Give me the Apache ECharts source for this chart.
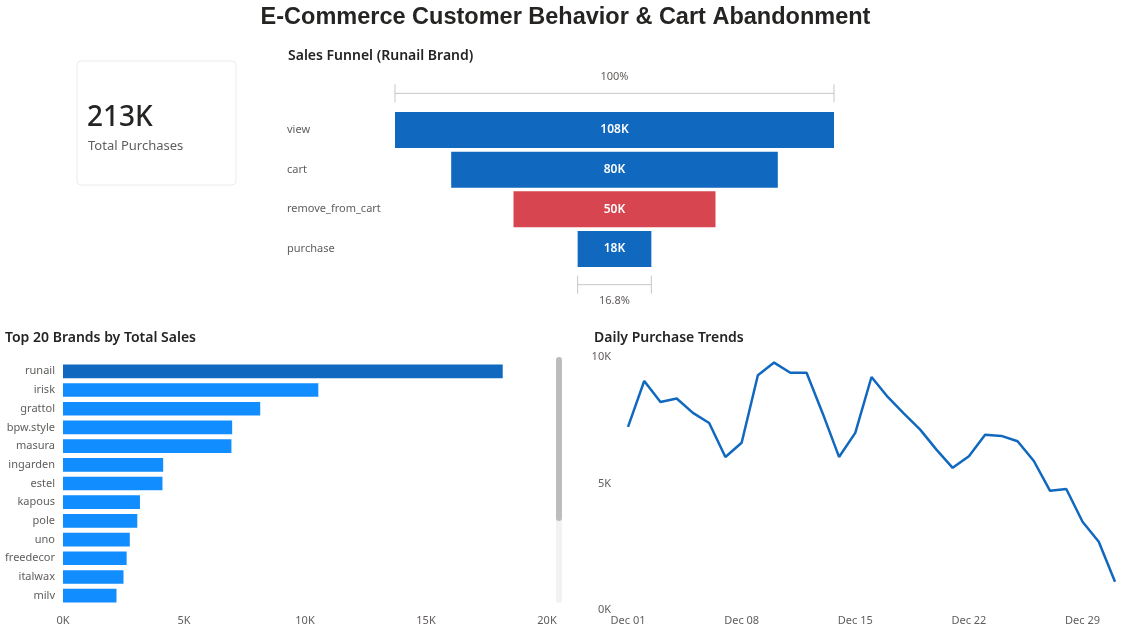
<!DOCTYPE html>
<html>
<head>
<meta charset="utf-8">
<title>E-Commerce Customer Behavior & Cart Abandonment</title>
<script src="https://cdn.jsdelivr.net/npm/echarts@6/dist/echarts.min.js"></script>
<style>
  html, body { margin: 0; padding: 0; background: #ffffff; }
  #main { width: 1131px; height: 633px; }
</style>
</head>
<body>
<div id="main"></div>
<script>
// funnel (runail brand)
var funnelStages = ['view', 'cart', 'remove_from_cart', 'purchase']
var funnelValues = [107800, 80200, 49600, 18100]

// top brands by total sales (visible part of the list)
var brandNames = ['runail', 'irisk', 'grattol', 'bpw.style', 'masura', 'ingarden', 'estel', 'kapous', 'pole', 'uno', 'freedecor', 'italwax', 'milv']
var brandSales = [18170, 10550, 8150, 6990, 6960, 4140, 4110, 3180, 3070, 2760, 2630, 2500, 2210]

// daily purchases, december
var dayLabels = []
for (var d = 1; d <= 31; d++) dayLabels.push('Dec ' + (d < 10 ? '0' + d : d))
var dailyPurchases = [7240, 9050, 8220, 8360, 7790, 7390, 6050, 6610, 9280, 9780, 9380, 9380, 7760, 6050,
  7000, 9210, 8420, 7760, 7130, 6340, 5620, 6080, 6930, 6880, 6670, 5890, 4710, 4780, 3490, 2700, 1120]

var font = 'Noto Sans'
var gray = '#605e5c'
var dark = '#252423'
var blue = '#1068bf'
var red = '#d64550'

var chart = echarts.init(document.getElementById('main'))

var total = dailyPurchases.reduce(function (a, b) { return a + b }, 0)
var maxFunnel = funnelValues[0]

// funnel rows: an empty row above and below holds the brackets
var funnelRows = ['top'].concat(funnelStages, ['bottom'])
var padData = ['-'].concat(funnelValues.map(function (v) { return (maxFunnel - v) / 2 }), ['-'])
var valData = ['-'].concat(funnelValues.map(function (v, i) {
  return { value: v, itemStyle: { color: funnelStages[i] === 'remove_from_cart' ? red : blue } }
}), ['-'])
var last = funnelValues[funnelValues.length - 1]
var bracketData = [
  [0, maxFunnel, 0, '100%', -1],
  [(maxFunnel - last) / 2, (maxFunnel + last) / 2, funnelRows.length - 1, (last / maxFunnel * 100).toFixed(1) + '%', 1]
]

var kFmt = function (v) { return Math.round(v / 1000) + 'K' }

var option = {
  animation: false,
  textStyle: { fontFamily: font },
  title: [{
    text: 'E-Commerce Customer Behavior & Cart Abandonment',
    left: 'center',
    top: 1,
    textStyle: { fontFamily: 'Liberation Sans', fontSize: 23.5, fontWeight: 'bold', color: '#252423' }
  }, {
    text: 'Sales Funnel (Runail Brand)',
    left: 283, top: 44,
    textStyle: { fontSize: 14, fontWeight: 600, color: dark }
  }, {
    text: 'Top 20 Brands by Total Sales',
    left: 0, top: 326,
    textStyle: { fontSize: 14, fontWeight: 600, color: dark }
  }, {
    text: 'Daily Purchase Trends',
    left: 589, top: 326,
    textStyle: { fontSize: 14, fontWeight: 600, color: dark }
  }],
  graphic: [{
    type: 'rect',
    shape: { x: 77, y: 61, width: 159, height: 124, r: 4 },
    style: { fill: '#ffffff', stroke: '#ececec', lineWidth: 1 }
  }, {
    type: 'text',
    x: 87, y: 118,
    style: { text: kFmt(total), font: '500 28px "Noto Sans"', fill: dark, verticalAlign: 'middle' }
  }, {
    type: 'text',
    x: 88, y: 146,
    style: { text: 'Total Purchases', font: '13px "Noto Sans"', fill: gray, verticalAlign: 'middle' }
  }, {
    // scrollbar of the brand list
    type: 'rect',
    shape: { x: 556, y: 357, width: 6, height: 246, r: 3 },
    style: { fill: '#f3f2f1' }
  }, {
    type: 'rect',
    shape: { x: 556, y: 357, width: 6, height: 164, r: 3 },
    style: { fill: '#bdbdbd' }
  }],
  grid: [
    { left: 395, top: 70.5, width: 439, height: 238 },
    { left: 63, top: 362, width: 484, height: 243 },
    { left: 628, top: 357, right: 16, height: 253 }
  ],
  xAxis: [{
    gridIndex: 0, type: 'value', min: 0, max: maxFunnel, show: false
  }, {
    gridIndex: 1, type: 'value', min: 0, max: 20000, interval: 5000,
    splitLine: { show: false }, axisLine: { show: false }, axisTick: { show: false },
    axisLabel: { formatter: function (v) { return v / 1000 + 'K' }, color: gray, fontSize: 11, margin: 10 }
  }, {
    gridIndex: 2, type: 'category', data: dayLabels, boundaryGap: false,
    axisLine: { show: false }, axisTick: { show: false },
    axisLabel: { interval: 6, color: gray, fontSize: 11, margin: 5 }
  }],
  yAxis: [{
    gridIndex: 0, type: 'category', data: funnelRows, inverse: true,
    axisLine: { show: false }, axisTick: { show: false },
    axisLabel: {
      align: 'left', margin: 108, color: gray, fontSize: 11,
      formatter: function (v) { return v === 'top' || v === 'bottom' ? '' : v }
    }
  }, {
    gridIndex: 1, type: 'category', data: brandNames, inverse: true,
    axisLine: { show: false }, axisTick: { show: false },
    axisLabel: { color: gray, fontSize: 11, margin: 8 }
  }, {
    gridIndex: 2, type: 'value', min: 0, max: 10000, interval: 5000,
    splitLine: { show: false },
    axisLabel: { formatter: function (v) { return v / 1000 + 'K' }, color: gray, fontSize: 11, margin: 17 }
  }],
  series: [{
    type: 'bar', xAxisIndex: 0, yAxisIndex: 0, stack: 'funnel',
    data: padData, barWidth: 36,
    itemStyle: { color: 'transparent' }, silent: true
  }, {
    type: 'bar', xAxisIndex: 0, yAxisIndex: 0, stack: 'funnel',
    data: valData, barWidth: 36,
    label: {
      show: true, position: 'inside', color: '#ffffff', fontSize: 12, fontWeight: 600,
      formatter: function (p) { return kFmt(p.value) }
    }
  }, {
    type: 'custom', xAxisIndex: 0, yAxisIndex: 0,
    data: bracketData,
    renderItem: function (params, api) {
      var a = api.coord([api.value(0), api.value(2)])
      var b = api.coord([api.value(1), api.value(2)])
      var dir = api.value(4)
      // pull the brackets a little toward the bars
      var y = a[1] + (dir < 0 ? 3 : -4)
      var st = { stroke: '#c8c6c4', lineWidth: 1 }
      return {
        type: 'group',
        children: [
          { type: 'line', shape: { x1: a[0], y1: y, x2: b[0], y2: y }, style: st },
          { type: 'line', shape: { x1: a[0], y1: y - 9, x2: a[0], y2: y + 9 }, style: st },
          { type: 'line', shape: { x1: b[0], y1: y - 9, x2: b[0], y2: y + 9 }, style: st },
          {
            type: 'text',
            style: {
              text: bracketData[params.dataIndex][3],
              x: (a[0] + b[0]) / 2, y: y + dir * 16.5,
              align: 'center', verticalAlign: 'middle',
              font: '11px "Noto Sans"', fill: gray
            }
          }
        ]
      }
    }
  }, {
    type: 'bar', xAxisIndex: 1, yAxisIndex: 1,
    data: brandSales.map(function (v, i) {
      return { value: v, itemStyle: { color: i === 0 ? blue : '#118dff' } }
    }),
    barCategoryGap: '27%'
  }, {
    type: 'line', xAxisIndex: 2, yAxisIndex: 2,
    data: dailyPurchases, showSymbol: false,
    lineStyle: { color: blue, width: 2.5 }
  }]
}

chart.setOption(option)
window.onresize = chart.resize
</script>
</body>
</html>
